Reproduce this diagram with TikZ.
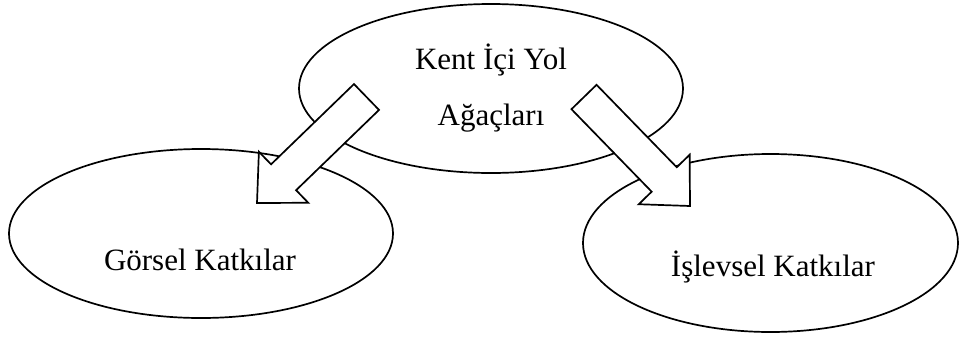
\documentclass[tikz,border=0pt]{standalone}
\usepackage{fontspec}
\setmainfont{Liberation Serif}
\usetikzlibrary{shapes.geometric,calc}
\tikzset{
  oval/.style={ellipse, draw=black, line width=1.7pt, inner sep=0pt},
  lbl/.style={anchor=base, inner sep=0pt, font=\fontsize{31}{37}\selectfont},
  blockarrow/.style={draw=black, fill=white, line width=1.7pt, line join=miter},
}
\begin{document}
\begin{tikzpicture}[x=1pt,y=-1pt]
\useasboundingbox (0,0) rectangle (959,338);
% ellipses
\node[oval, minimum width=384pt, minimum height=169pt] (top) at (491,88.5) {};
\node[oval, minimum width=384pt, minimum height=169pt] (left) at (201,233.5) {};
\node[oval, minimum width=375pt, minimum height=178pt] (right) at (770.5,243) {};
% texts
\node[lbl] (top1) at (491,69) {Kent İçi Yol};
\node[lbl] (top2) at (491,125) {Ağaçları};
\node[lbl] (lefttxt) at (200,270.5) {Görsel Katkılar};
\node[lbl] (righttxt) at (773,276) {İşlevsel Katkılar};
% block arrows
\coordinate (T1) at (366.5,97);
\coordinate (P1) at (257,203);
\coordinate (N1) at ($(P1)!37pt!(T1)$);
\draw[blockarrow] ($(T1)!18pt!90:(P1)$) -- ($(N1)!18pt!90:(P1)$) -- ($(N1)!35.5pt!90:(P1)$)
  -- (P1) -- ($(N1)!35.5pt!-90:(P1)$) -- ($(N1)!18pt!-90:(P1)$) -- ($(T1)!18pt!-90:(P1)$) -- cycle;
\coordinate (T2) at (584,97);
\coordinate (P2) at (690,206);
\coordinate (N2) at ($(P2)!37pt!(T2)$);
\draw[blockarrow] ($(T2)!17.5pt!90:(P2)$) -- ($(N2)!17.5pt!90:(P2)$) -- ($(N2)!35.5pt!90:(P2)$)
  -- (P2) -- ($(N2)!35.5pt!-90:(P2)$) -- ($(N2)!17.5pt!-90:(P2)$) -- ($(T2)!17.5pt!-90:(P2)$) -- cycle;
\end{tikzpicture}
\end{document}
